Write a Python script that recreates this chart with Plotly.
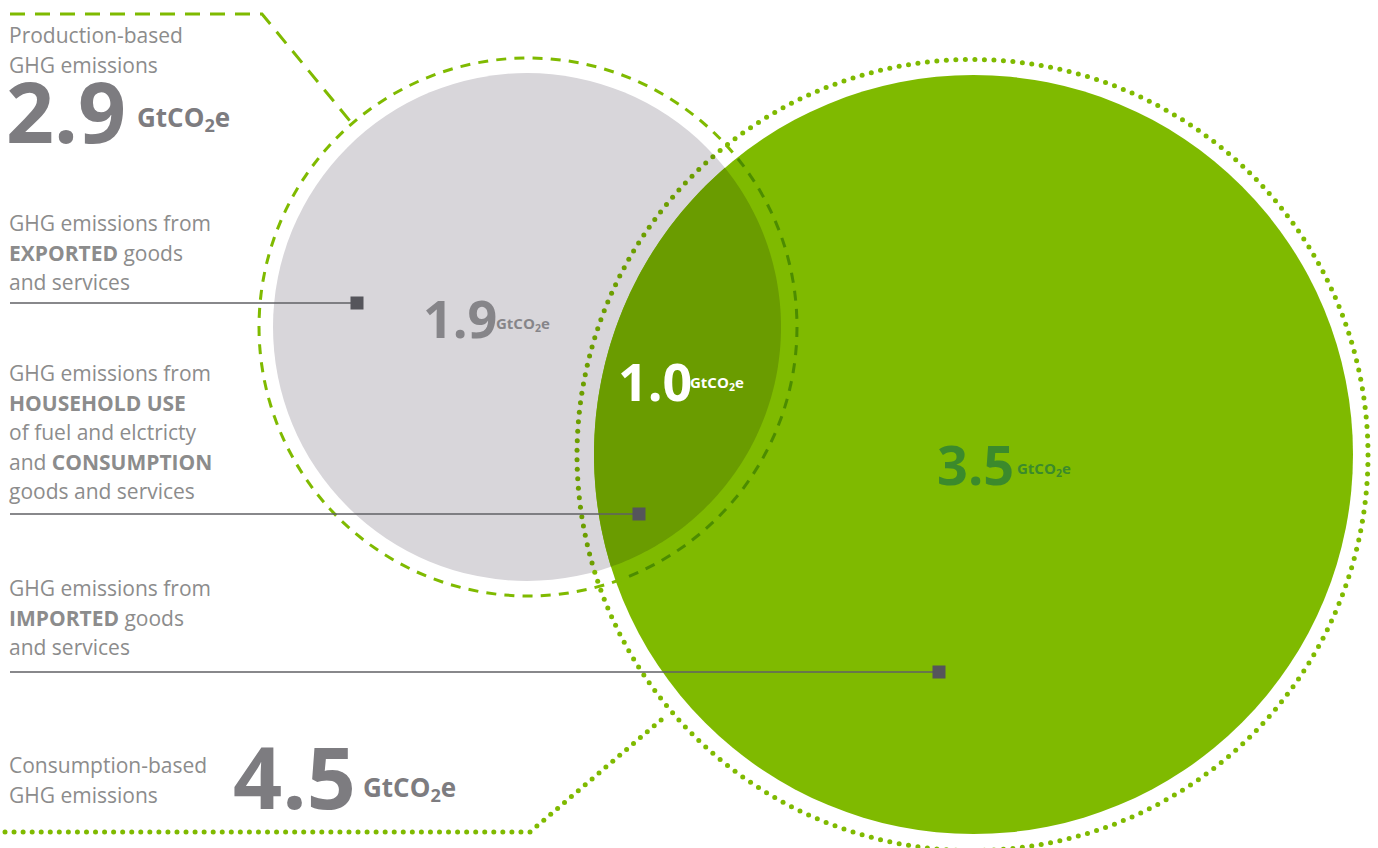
import numpy as np
import plotly.graph_objects as go

# ---------------- data ----------------
production_total = "2.9"
consumption_total = "4.5"
exported_value = "1.9"
household_value = "1.0"
imported_value = "3.5"
unit = "GtCO<sub>2</sub>e"

label_production = ["Production-based", "GHG emissions"]
label_exported = ["GHG emissions from", "<b>EXPORTED</b> goods", "and services"]
label_household = ["GHG emissions from", "<b>HOUSEHOLD USE</b>", "of fuel and elctricty",
                   "and <b>CONSUMPTION</b>", "goods and services"]
label_imported = ["GHG emissions from", "<b>IMPORTED</b> goods", "and services"]
label_consumption = ["Consumption-based", "GHG emissions"]

# ---------------- geometry / style ----------------
W, H = 1378, 848
GREEN = "#7fba00"
GREEN_DARK_LINE = "#4c8c00"
GREEN_ON_GRAY = "#6c9e00"
OVERLAP = "#6a9c00"
GRAY_FILL = "#d8d6da"
TXT = "#8c8c8c"
FONT = "Open Sans"

gc = (527.0, 327.0); gr = 254.0          # production circle
ec = (973.5, 454.5); er = 379.5          # consumption circle
dash_c = (528.0, 327.0); dash_r = 269.0  # dashed ring
dot_c = (972.5, 455.0); dot_r = 395.5    # dotted ring


def inside(p, c, r):
    return (p[0] - c[0]) ** 2 + (p[1] - c[1]) ** 2 < r ** 2


fig = go.Figure()

# circles
fig.add_shape(type="circle", x0=gc[0]-gr, x1=gc[0]+gr, y0=gc[1]-gr, y1=gc[1]+gr,
              fillcolor=GRAY_FILL, line=dict(width=0), layer="below")
fig.add_shape(type="circle", x0=ec[0]-er, x1=ec[0]+er, y0=ec[1]-er, y1=ec[1]+er,
              fillcolor=GREEN, line=dict(width=0), layer="below")

# overlap lens
dx, dy = ec[0]-gc[0], ec[1]-gc[1]
d = np.hypot(dx, dy)
tdir = np.arctan2(dy, dx)
alpha = np.arccos((d*d + gr*gr - er*er) / (2*d*gr))
pdir = np.arctan2(-dy, -dx)
beta = np.arccos((d*d + er*er - gr*gr) / (2*d*er))
ta = np.linspace(tdir - alpha, tdir + alpha, 120)
pa = [(gc[0] + gr*np.cos(t), gc[1] + gr*np.sin(t)) for t in ta]
tb = np.linspace(pdir - beta, pdir + beta, 120)
pb = [(ec[0] + er*np.cos(t), ec[1] + er*np.sin(t)) for t in tb]
if np.hypot(pa[-1][0]-pb[0][0], pa[-1][1]-pb[0][1]) > np.hypot(pa[-1][0]-pb[-1][0], pa[-1][1]-pb[-1][1]):
    pb = pb[::-1]
pts = pa + pb
path = "M " + " L ".join(f"{x:.2f},{y:.2f}" for x, y in pts) + " Z"
fig.add_shape(type="path", path=path, fillcolor=OVERLAP, line=dict(width=0), layer="below")

# dashed ring (segments coloured by background)
dash_len, gap_len = 10.0, 8.0
circ = 2*np.pi*dash_r
nseg = int(circ // (dash_len + gap_len))
step = circ / nseg
lx, ly, dxs, dys = [], [], [], []
for i in range(nseg):
    a0 = (i*step) / dash_r
    a1 = (i*step + dash_len) / dash_r
    ts = np.linspace(a0, a1, 6)
    xs = dash_c[0] + dash_r*np.cos(ts)
    ys = dash_c[1] + dash_r*np.sin(ts)
    mid = (xs[3], ys[3])
    if inside(mid, ec, er):
        dxs += list(xs) + [None]; dys += list(ys) + [None]
    else:
        lx += list(xs) + [None]; ly += list(ys) + [None]
fig.add_trace(go.Scatter(x=lx, y=ly, mode="lines", line=dict(color=GREEN, width=3),
                         hoverinfo="skip", showlegend=False))
fig.add_trace(go.Scatter(x=dxs, y=dys, mode="lines", line=dict(color=GREEN_DARK_LINE, width=3),
                         hoverinfo="skip", showlegend=False))

# top-left dashed leader
fig.add_trace(go.Scatter(x=[10, 262, 350], y=[14, 14, 121], mode="lines",
                         line=dict(color=GREEN, width=3, dash="15px,10px"),
                         hoverinfo="skip", showlegend=False))

# dotted ring
dot_sp = 9.5
nd = int(2*np.pi*dot_r // dot_sp)
td = np.linspace(0, 2*np.pi, nd, endpoint=False)
dpx = dot_c[0] + dot_r*np.cos(td)
dpy = dot_c[1] + dot_r*np.sin(td)
cols = [GREEN_ON_GRAY if inside((x, y), gc, gr) else GREEN for x, y in zip(dpx, dpy)]

# bottom dotted leader
poly = [(5, 832), (530, 832), (668, 714)]
bx, by = [], []
for (x0, y0), (x1, y1) in zip(poly[:-1], poly[1:]):
    L = np.hypot(x1-x0, y1-y0)
    n = int(L // 9.0)
    for k in range(n):
        f = k / n
        bx.append(x0 + f*(x1-x0)); by.append(y0 + f*(y1-y0))
fig.add_trace(go.Scatter(x=list(dpx) + bx, y=list(dpy) + by, mode="markers",
                         marker=dict(color=cols + [GREEN]*len(bx), size=5, line=dict(width=0)),
                         hoverinfo="skip", showlegend=False))

# leader lines with square markers
leaders = [(303, 357), (514, 639), (672, 939)]
for y, xe in leaders:
    fig.add_trace(go.Scatter(x=[10, xe], y=[y, y], mode="lines",
                             line=dict(color="#606064", width=1.4),
                             hoverinfo="skip", showlegend=False))
    fig.add_trace(go.Scatter(x=[xe], y=[y], mode="markers",
                             marker=dict(symbol="square", size=13, color="#55555b", line=dict(width=0)),
                             hoverinfo="skip", showlegend=False))

# ---------------- text ----------------
def label_block(lines, y0, spacing=29.5):
    for i, t in enumerate(lines):
        fig.add_annotation(x=7, y=y0 + i*spacing, text=t, showarrow=False,
                           xanchor="left", yanchor="middle",
                           font=dict(family=FONT, size=21, color=TXT))

label_block(label_production, 35)
label_block(label_exported, 223)
label_block(label_household, 373)
label_block(label_imported, 588)
label_block(label_consumption, 765)


def big(x, y, txt, size, color):
    fig.add_annotation(x=x, y=y, text=f"<b>{txt}</b>", showarrow=False, xanchor="left",
                       yanchor="middle", font=dict(family=FONT, size=size, color=color))


def unit_lbl(x, y, size, color):
    fig.add_annotation(x=x, y=y, text=f"<b>{unit}</b>", showarrow=False, xanchor="left",
                       yanchor="middle", font=dict(family=FONT, size=size, color=color))


NUMGRAY = "#7d7c80"
big(4, 110, production_total, 84, NUMGRAY)
unit_lbl(135, 118, 26, NUMGRAY)
big(231, 775, consumption_total, 86, NUMGRAY)
unit_lbl(361, 788, 26, NUMGRAY)
big(421, 317, exported_value, 52, "#868589")
unit_lbl(494, 324, 15, "#868589")
big(616, 380, household_value, 52, "white")
unit_lbl(688, 383, 15, "white")
big(935, 464, imported_value, 54, "#3b8a2c")
unit_lbl(1015, 469, 15, "#3b8a2c")

fig.update_layout(
    width=W, height=H, margin=dict(l=0, r=0, t=0, b=0),
    paper_bgcolor="white", plot_bgcolor="white",
    xaxis=dict(range=[0, W], visible=False, fixedrange=True),
    yaxis=dict(range=[H, 0], visible=False, fixedrange=True),
    showlegend=False,
)
fig.write_html("out.html", config={"displayModeBar": False},
               post_script="document.body.style.margin='0';document.body.style.overflow='hidden';")
